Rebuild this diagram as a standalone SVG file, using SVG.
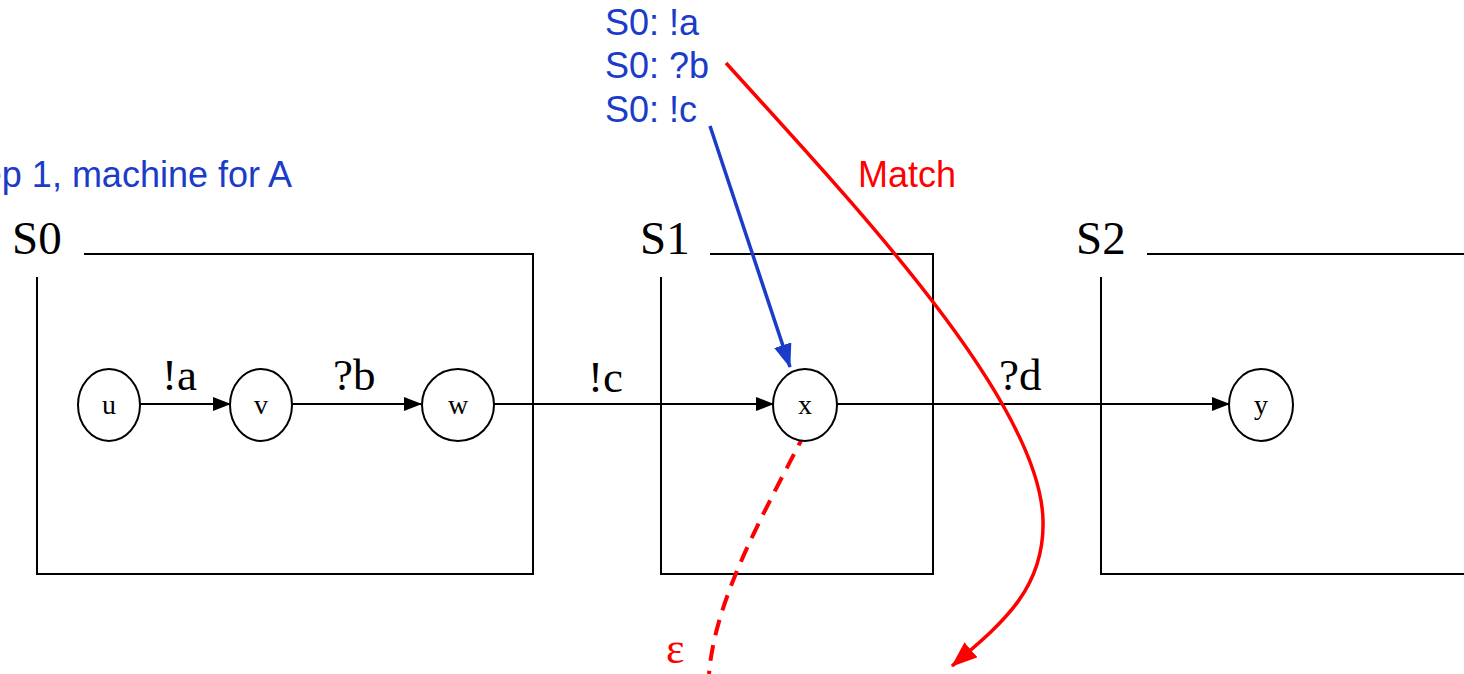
<svg xmlns="http://www.w3.org/2000/svg" width="1464" height="674" viewBox="0 0 1464 674">
<style>
.box{fill:none;stroke:#000;stroke-width:2}
.node ellipse{fill:#fff;stroke:#000;stroke-width:2}
.nl{font-family:"Liberation Serif",serif;font-size:28px;text-anchor:middle}
.st{font-family:"Liberation Serif",serif;font-size:47px}
.el{font-family:"Liberation Serif",serif;font-size:45px}
.bl{font-family:"Liberation Sans",Arial,sans-serif;font-size:36px;fill:#1a3cc8}
.rd{font-family:"Liberation Sans",Arial,sans-serif;font-size:36px;fill:#ff0000}
.edge{fill:none;stroke:#000;stroke-width:2}
</style>
<defs>
<marker id="ah" markerWidth="18" markerHeight="14" refX="17" refY="7" orient="auto" markerUnits="userSpaceOnUse">
<path d="M0,0 L18,7 L0,14 Z" fill="#000"/>
</marker>
<marker id="ahb" markerWidth="24" markerHeight="18" refX="23" refY="9" orient="auto" markerUnits="userSpaceOnUse">
<path d="M0,0 L24,9 L0,18 Z" fill="#1a3cc8"/>
</marker>
<marker id="ahr" markerWidth="26" markerHeight="20" refX="25" refY="10" orient="auto" markerUnits="userSpaceOnUse">
<path d="M0,0 L26,10 L0,20 Z" fill="#ff0000"/>
</marker>
</defs>
<g id="states">
<g id="S0">
<text class="st" x="12" y="254">S0</text>
<polyline class="box" points="84,254 533,254 533,574 37,574 37,277"/>
</g>
<g id="S1">
<text class="st" x="640" y="254">S1</text>
<polyline class="box" points="710,254 933,254 933,574 661,574 661,277"/>
</g>
<g id="S2">
<text class="st" x="1076" y="254">S2</text>
<line class="box" x1="1147" y1="254" x2="1466" y2="254"/>
<polyline class="box" points="1466,574 1101,574 1101,277"/>
</g>
</g>
<g id="connectors">
<line class="edge" x1="140" y1="404" x2="230" y2="404" marker-end="url(#ah)"/>
<line class="edge" x1="292" y1="404" x2="421" y2="404" marker-end="url(#ah)"/>
<line class="edge" x1="494" y1="404" x2="773" y2="404" marker-end="url(#ah)"/>
<line class="edge" x1="837" y1="404" x2="1229" y2="404" marker-end="url(#ah)"/>
<text class="el" x="162" y="390">!a</text>
<text class="el" x="333" y="390">?b</text>
<text class="el" x="588" y="392">!c</text>
<text class="el" x="999" y="390">?d</text>
<line x1="710" y1="126" x2="790" y2="367" stroke="#1a3cc8" stroke-width="3.5" marker-end="url(#ahb)"/>
<path d="M726,63 C850,200 1040,400 1043,520 C1045,590 1000,625 952,666" fill="none" stroke="#ff0000" stroke-width="3.5" marker-end="url(#ahr)"/>
<path d="M806,431 C760,520 715,600 709,674" fill="none" stroke="#ff0000" stroke-width="4" stroke-dasharray="16,10"/>
</g>
<g id="u" class="node"><ellipse cx="109" cy="405" rx="31" ry="36"/><text class="nl" x="109" y="414">u</text></g>
<g id="v" class="node"><ellipse cx="261" cy="405" rx="31" ry="36"/><text class="nl" x="261" y="414">v</text></g>
<g id="w" class="node"><ellipse cx="458" cy="405" rx="36" ry="36"/><text class="nl" x="458" y="414">w</text></g>
<g id="x" class="node"><ellipse cx="805" cy="405" rx="32" ry="36"/><text class="nl" x="805" y="414">x</text></g>
<g id="y" class="node"><ellipse cx="1261" cy="405" rx="32" ry="36"/><text class="nl" x="1261" y="414">y</text></g>
<g id="labels">
<text class="bl" x="605" y="35">S0: !a</text>
<text class="bl" x="605" y="78">S0: ?b</text>
<text class="bl" x="605" y="122">S0: !c</text>
<text class="bl" x="292" y="187" text-anchor="end">Step 1, machine for A</text>
<text class="rd" x="858" y="187">Match</text>
<text x="666" y="663" font-family="'Liberation Serif',serif" font-size="44px" fill="#ff0000">ε</text>
</g>
</svg>
